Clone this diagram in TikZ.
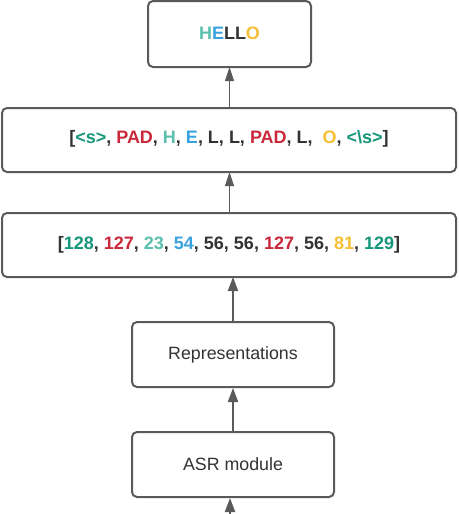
\documentclass[tikz,border=0pt]{standalone}
\usepackage{fontspec}
\setmainfont{Liberation Sans}
\usetikzlibrary{arrows.meta}
\definecolor{boxgray}{HTML}{5A5A5A}
\definecolor{tgreen}{HTML}{16967A}
\definecolor{tred}{HTML}{C9293A}
\definecolor{tteal}{HTML}{5BBFAE}
\definecolor{tblue}{HTML}{39A2DE}
\definecolor{tdark}{HTML}{333333}
\definecolor{tyellow}{HTML}{F7BF35}
\begin{document}
\begin{tikzpicture}[x=1pt,y=-1pt,
  box/.style={draw=boxgray,line width=2pt,rounded corners=5pt,fill=white,
    text=tdark,font=\fontsize{17.8}{20}\selectfont},
  boldtext/.style={text=tdark,font=\fontsize{18}{20}\selectfont\bfseries},
  thinarrow/.style={draw=boxgray,line width=1pt,-{Triangle[length=14pt,width=9pt]}},
  thickarrow/.style={draw=boxgray,line width=2pt,-{Triangle[length=14pt,width=10pt]}}]
\useasboundingbox (0,0) rectangle (458,514);
\draw[box] (148,1) rectangle (311,67);
\node[boldtext] (hello) at (229.5,33)
  {\textcolor{tteal}{H}\textcolor{tblue}{E}LL\textcolor{tyellow}{O}};
\coordinate (helloS) at (229.5,67);
\draw[box] (2,108) rectangle (456,172);
\node[boldtext] (tok) at (229,139)
  {[\textcolor{tgreen}{<s>}, \textcolor{tred}{PAD}, \textcolor{tteal}{H}, \textcolor{tblue}{E}, L, L, \textcolor{tred}{PAD}, L,\ \ \textcolor{tyellow}{O}, \textcolor{tgreen}{<\textbackslash s>}]};
\coordinate (tokN) at (229.5,108);
\coordinate (tokS) at (229.5,172);
\draw[box] (2,213) rectangle (456,277);
\node[boldtext] (num) at (229,245)
  {[\textcolor{tgreen}{128}, \textcolor{tred}{127}, \textcolor{tteal}{23}, \textcolor{tblue}{54}, 56, 56, \textcolor{tred}{127}, 56, \textcolor{tyellow}{81}, \textcolor{tgreen}{129}]};
\coordinate (numN) at (229.5,213);
\coordinate (numS) at (233,277);
\node[box,minimum width=202pt,minimum height=65pt,inner sep=0pt] (rep) at (233,354.5) {Representations};
\node[box,minimum width=202pt,minimum height=65pt,inner sep=0pt] (asr) at (233,464.5) {ASR module};
\coordinate (in) at (230,514);
\draw[thinarrow] (tokN) -- (helloS);
\draw[thinarrow] (numN) -- (tokS);
\draw[thickarrow] (rep.north) -- (numS);
\draw[thickarrow] (asr.north) -- (rep.south);
\draw[thickarrow] (in) -- (in |- asr.south);
\end{tikzpicture}
\end{document}
